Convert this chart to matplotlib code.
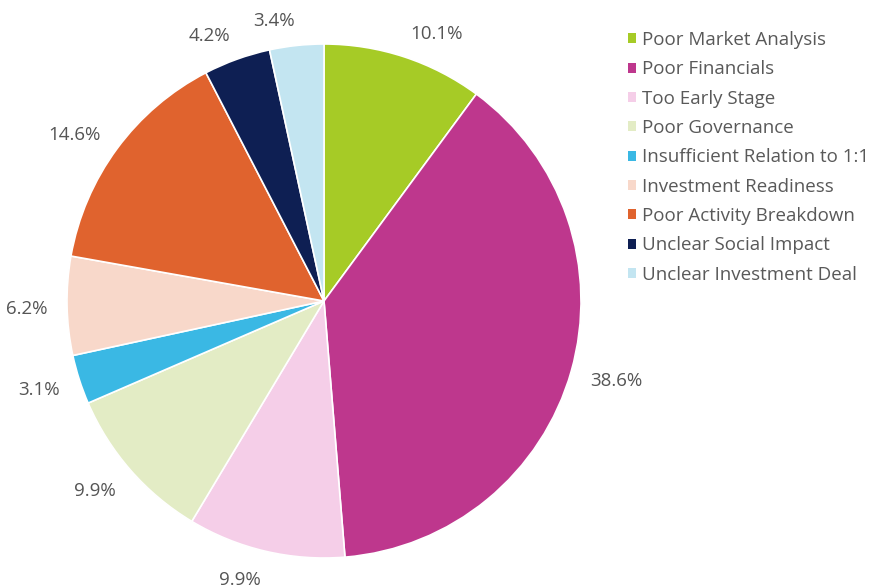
import matplotlib
matplotlib.use("Agg")
import matplotlib.pyplot as plt
from matplotlib.patches import Patch

categories = ["Poor Market Analysis", "Poor Financials", "Too Early Stage",
              "Poor Governance", "Insufficient Relation to 1:1",
              "Investment Readiness", "Poor Activity Breakdown",
              "Unclear Social Impact", "Unclear Investment Deal"]
values = [10.1, 38.6, 9.9, 9.9, 3.1, 6.2, 14.6, 4.2, 3.4]
colors = ["#A6CB26", "#BE378D", "#F5CEE8", "#E3ECC5", "#3AB8E4",
          "#F8D8CA", "#E0632E", "#0E1F53", "#C3E5F1"]

plt.rcParams['font.family'] = ['Open Sans', 'DejaVu Sans']

fig = plt.figure(figsize=(8.77, 5.87), dpi=100)
W, H = 877, 587
cx, cy, r = 324, 301, 257
ax = fig.add_axes([(cx - r) / W, (H - cy - r) / H, 2 * r / W, 2 * r / H])

labels = [f"{v:.1f}%" for v in values]
wedges, texts = ax.pie(values, colors=colors, startangle=90, counterclock=False,
                       labels=labels, labeldistance=1.105,
                       wedgeprops=dict(edgecolor="white", linewidth=1.2),
                       textprops=dict(fontsize=13.5, color="#555555"))
for t in texts:
    x, y = t.get_position()
    t.set_position((x * 1.078 / 1.105, y - 0.01))
ax.set_xlim(-1, 1)
ax.set_ylim(-1, 1)
ax.set_aspect("equal")
ax.axis("off")

handles = [Patch(facecolor=c, edgecolor="none") for c in colors]
fig.legend(handles, categories, loc="upper left",
           bbox_to_anchor=(628 / W, 1 - 31 / H), frameon=False,
           fontsize=13.5, labelcolor="#595959", handlelength=0.45,
           handleheight=0.45, handletextpad=0.3, labelspacing=0.605,
           borderaxespad=0, borderpad=0)

fig.savefig("out.png", dpi=100, facecolor="white")
